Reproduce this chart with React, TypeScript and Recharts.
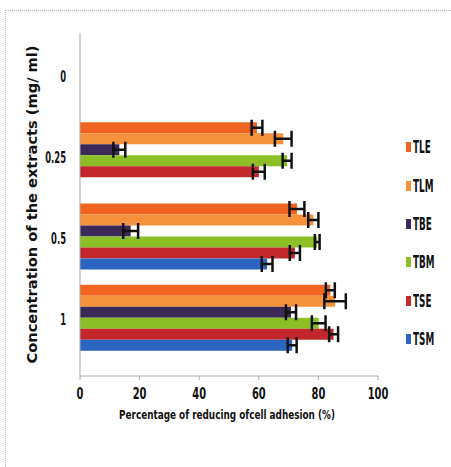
import { BarChart, Bar, XAxis, YAxis, ErrorBar } from 'recharts';

const concentrations = ['0', '0.25', '0.5', '1'];

const seriesNames = ['TLE', 'TLM', 'TBE', 'TBM', 'TSE', 'TSM'];
const seriesColors = ['#EE6420', '#F4913A', '#3B2A57', '#8CBF26', '#C2282B', '#2C64C2'];

const tle = [0, 59.4, 72.8, 84.0];
const tleErr = [0, 1.8, 2.5, 1.5];
const tlm = [0, 68.2, 78.3, 85.6];
const tlmErr = [0, 2.8, 1.7, 3.6];
const tbe = [0, 13.2, 17.0, 70.8];
const tbeErr = [0, 2.0, 2.5, 1.7];
const tbm = [0, 69.5, 79.6, 80.1];
const tbmErr = [0, 1.5, 0.8, 2.3];
const tse = [0, 60.0, 72.1, 85.1];
const tseErr = [0, 2.0, 1.7, 1.5];
const tsm = [0, 0, 62.8, 71.2];
const tsmErr = [0, 0, 1.8, 1.5];

const xTicks = [0, 20, 40, 60, 80, 100];

const values = [tle, tlm, tbe, tbm, tse, tsm];
const errors = [tleErr, tlmErr, tbeErr, tbmErr, tseErr, tsmErr];

const data = concentrations.map((c, i) => {
  const row: Record<string, string | number> = { conc: c };
  seriesNames.forEach((s, k) => {
    row[s] = values[k][i];
    row[s + '_err'] = errors[k][i];
  });
  return row;
});

const font = '"DejaVu Sans", Verdana, sans-serif';

// the original uses a very narrow bold face, so squeeze DejaVu horizontally
function XTick({ x, y, payload }: any) {
  return (
    <g transform={`translate(${x},${y})`}>
      <text transform="scale(0.62,1)" textAnchor="middle" dy="0.75em" fill="#111"
        fontSize={16} fontWeight={700} fontFamily={font}>
        {payload.value}
      </text>
    </g>
  );
}

function YTick({ x, y, payload }: any) {
  return (
    <g transform={`translate(${x},${y + 2})`}>
      <text transform="scale(0.51,1)" textAnchor="end" dy="0.36em" fill="#111"
        fontSize={16.5} fontWeight={700} fontFamily={font}>
        {payload.value}
      </text>
    </g>
  );
}

function XTitle({ viewBox }: any) {
  const { x, y, width } = viewBox;
  return (
    <text x={x + width / 2 - 2} y={y + 43} textAnchor="middle" fill="#111"
      fontSize={13} fontWeight={700} fontFamily={font}
      textLength={216} lengthAdjust="spacingAndGlyphs">
      Percentage of reducing ofcell adhesion  (%)
    </text>
  );
}

function YTitle({ viewBox }: any) {
  const { y, height } = viewBox;
  const cx = 32;
  const cy = y + height / 2;
  return (
    <text x={cx} y={cy} transform={`rotate(-90,${cx},${cy})`} textAnchor="middle" dy="0.36em"
      fill="#111" fontSize={13.5} fontWeight={700} fontFamily={font}
      textLength={318} lengthAdjust="spacingAndGlyphs">
      Concentration of the extracts (mg/ ml)
    </text>
  );
}

export default function App() {
  return (
    <div style={{ position: 'absolute', left: 0, top: 0, width: 451, height: 467, background: '#fff' }}>
      <div
        style={{
          position: 'absolute', left: 5, top: 10, right: 0, bottom: 0,
          borderTop: '1px dotted #bbb', borderLeft: '1px dotted #bbb',
        }}
      />
      <BarChart
        width={451}
        height={467}
        data={data}
        layout="vertical"
        margin={{ top: 33, right: 73, left: 0, bottom: 41 }}
        barSize={11}
        barGap={0}
        style={{ position: 'absolute', left: 0, top: 0 }}
      >
        <XAxis
          type="number"
          domain={[0, 100]}
          ticks={xTicks}
          height={50}
          stroke="#aaa"
          tickSize={4}
          tickMargin={7}
          tick={<XTick />}
          label={{ content: <XTitle /> }}
        />
        <YAxis
          type="category"
          dataKey="conc"
          width={80}
          stroke="#aaa"
          tickLine={false}
          tickMargin={8}
          padding={{ top: 0, bottom: 18 }}
          tick={<YTick />}
          label={{ content: <YTitle /> }}
        />
        {seriesNames.map((s, k) => (
          <Bar key={s} dataKey={s} fill={seriesColors[k]} isAnimationActive={false}>
            <ErrorBar dataKey={s + '_err'} direction="x" width={8} stroke="#111" strokeWidth={2.5} />
          </Bar>
        ))}
      </BarChart>
      <div style={{ position: 'absolute', left: 406, top: 128, fontFamily: font, fontWeight: 700 }}>
        {seriesNames.map((s, k) => (
          <div key={s} style={{ display: 'flex', alignItems: 'center', height: 38.4 }}>
            <span style={{ width: 5, height: 10, background: seriesColors[k], marginRight: 2 }} />
            <span style={{ display: 'inline-block', fontSize: 17, color: '#111', transform: 'scaleX(0.52)', transformOrigin: 'left center' }}>{s}</span>
          </div>
        ))}
      </div>
    </div>
  );
}
